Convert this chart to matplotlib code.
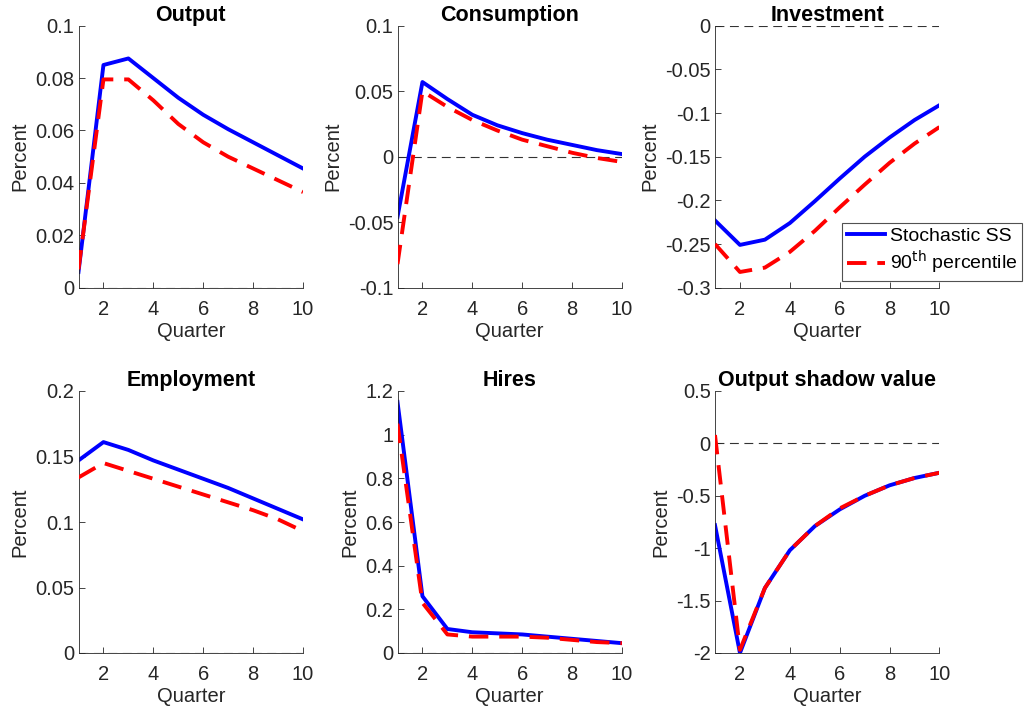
import matplotlib
matplotlib.use("Agg")
import matplotlib.pyplot as plt

plt.rcParams["font.family"] = ["Liberation Sans", "DejaVu Sans"]

quarters = [1, 2, 3, 4, 5, 6, 7, 8, 9, 10]

output_ss = [0.006, 0.085, 0.0875, 0.080, 0.0725, 0.066, 0.0605, 0.0555, 0.0505, 0.0455]
output_p90 = [0.007, 0.0795, 0.0795, 0.0715, 0.0625, 0.0555, 0.050, 0.0455, 0.041, 0.0365]

cons_ss = [-0.046, 0.057, 0.044, 0.032, 0.024, 0.018, 0.013, 0.009, 0.005, 0.002]
cons_p90 = [-0.082, 0.050, 0.038, 0.028, 0.020, 0.013, 0.008, 0.003, -0.001, -0.004]

inv_ss = [-0.223, -0.251, -0.245, -0.226, -0.201, -0.175, -0.150, -0.128, -0.108, -0.091]
inv_p90 = [-0.250, -0.282, -0.277, -0.259, -0.235, -0.208, -0.182, -0.157, -0.135, -0.116]

emp_ss = [0.147, 0.161, 0.155, 0.147, 0.140, 0.133, 0.126, 0.118, 0.110, 0.102]
emp_p90 = [0.134, 0.145, 0.139, 0.133, 0.127, 0.121, 0.115, 0.109, 0.102, 0.093]

hires_ss = [1.15, 0.26, 0.11, 0.095, 0.09, 0.085, 0.075, 0.065, 0.055, 0.045]
hires_p90 = [1.05, 0.23, 0.085, 0.075, 0.075, 0.075, 0.07, 0.06, 0.05, 0.045]

shadow_ss = [-0.78, -2.0, -1.38, -1.02, -0.79, -0.63, -0.50, -0.40, -0.33, -0.28]
shadow_p90 = [0.08, -1.97, -1.38, -1.02, -0.79, -0.62, -0.50, -0.40, -0.33, -0.28]

panels = [
    ("Output", output_ss, output_p90, (0, 0.1), [0, 0.02, 0.04, 0.06, 0.08, 0.1],
     ["0", "0.02", "0.04", "0.06", "0.08", "0.1"]),
    ("Consumption", cons_ss, cons_p90, (-0.1, 0.1), [-0.1, -0.05, 0, 0.05, 0.1],
     ["-0.1", "-0.05", "0", "0.05", "0.1"]),
    ("Investment", inv_ss, inv_p90, (-0.3, 0), [-0.3, -0.25, -0.2, -0.15, -0.1, -0.05, 0],
     ["-0.3", "-0.25", "-0.2", "-0.15", "-0.1", "-0.05", "0"]),
    ("Employment", emp_ss, emp_p90, (0, 0.2), [0, 0.05, 0.1, 0.15, 0.2],
     ["0", "0.05", "0.1", "0.15", "0.2"]),
    ("Hires", hires_ss, hires_p90, (0, 1.2), [0, 0.2, 0.4, 0.6, 0.8, 1, 1.2],
     ["0", "0.2", "0.4", "0.6", "0.8", "1", "1.2"]),
    ("Output shadow value", shadow_ss, shadow_p90, (-2, 0.5), [-2, -1.5, -1, -0.5, 0, 0.5],
     ["-2", "-1.5", "-1", "-0.5", "0", "0.5"]),
]

W, H = 1025, 715
lefts = [78.5, 397.5, 715]
tops = [25.7, 391]
aw, ah = 224.5, 262
fs = 14.5

fig = plt.figure(figsize=(W / 100, H / 100), dpi=100)
axis_col = "#262626"

for i, (title, ss, p90, ylim, yt, ytl) in enumerate(panels):
    r, c = divmod(i, 3)
    ax = fig.add_axes([lefts[c] / W, 1 - (tops[r] + ah) / H, aw / W, ah / H])
    ax.axhline(0, color="#333333", linewidth=0.8, linestyle=(0, (8, 5)), zorder=1)
    l1, = ax.plot(quarters, ss, color="#0000ff", linewidth=2.8, zorder=2,
                  label="Stochastic SS")
    l2, = ax.plot(quarters, p90, color="#ff0000", linewidth=2.8, zorder=3,
                  linestyle=(0, (5.0, 2.8)), label="90$^{\\rm th}$ percentile")
    ax.set_xlim(1, 10)
    ax.set_ylim(*ylim)
    ax.set_xticks([2, 4, 6, 8, 10])
    ax.set_yticks(yt)
    ax.set_yticklabels(ytl)
    ax.spines["top"].set_visible(False)
    ax.spines["right"].set_visible(False)
    for s in ("left", "bottom"):
        ax.spines[s].set_color(axis_col)
        ax.spines[s].set_linewidth(0.6)
    ax.tick_params(direction="in", length=4, width=0.6, colors=axis_col,
                   labelsize=fs)
    ax.tick_params(axis="x", pad=9)
    ax.tick_params(axis="y", pad=3)
    ax.set_title(title, fontsize=15.5, fontweight="bold", pad=3)
    ax.set_xlabel("Quarter", fontsize=fs, color=axis_col, labelpad=2)
    ax.set_ylabel("Percent", fontsize=fs, color=axis_col, labelpad=4)
    if title == "Investment":
        leg = fig.legend(handles=[l1, l2], loc="upper left",
                         bbox_to_anchor=(842 / W, 1 - 222.7 / H),
                         fontsize=14, frameon=True, fancybox=False,
                         handlelength=1.95, borderpad=0.25, labelspacing=0.2,
                         handletextpad=0.26, borderaxespad=0)
        leg.get_frame().set_edgecolor("#262626")
        leg.get_frame().set_linewidth(0.8)

fig.savefig("out.png", dpi=100)
